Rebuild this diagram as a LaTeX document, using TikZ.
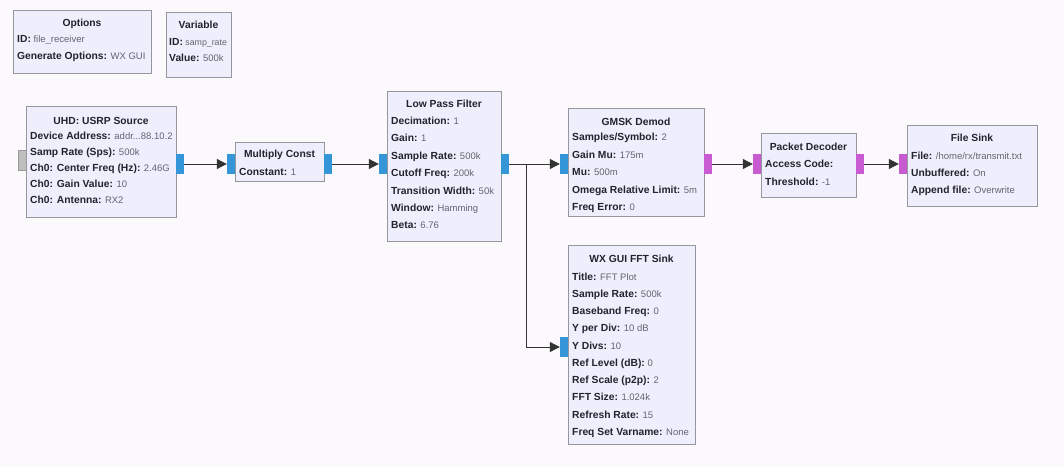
\documentclass[tikz,border=0pt]{standalone}
\usepackage{fontspec}
\setmainfont{Liberation Sans}
\usetikzlibrary{arrows.meta}
\definecolor{bg}{RGB}{252,249,252}
\definecolor{blkfill}{RGB}{239,238,252}
\definecolor{blkdraw}{RGB}{150,150,158}
\definecolor{lbl}{RGB}{35,35,45}
\definecolor{val}{RGB}{100,100,112}
\definecolor{cport}{RGB}{52,150,215}
\definecolor{bport}{RGB}{200,90,210}
\definecolor{gport}{RGB}{190,190,190}
\tikzset{
  blk/.style={draw=blkdraw, fill=blkfill, line width=1.1pt, anchor=north west, inner sep=0pt},
  ttl/.style={font=\fontsize{10.3}{11}\selectfont\bfseries, text=lbl, inner sep=0pt, anchor=mid},
  prm/.style={font=\fontsize{9.5}{11}\selectfont, text=val, inner sep=0pt, anchor=mid west},
  port/.style={minimum width=8pt, minimum height=20pt, inner sep=0pt, draw=none},
  cp/.style={port, fill=cport},
  bp/.style={port, fill=bport},
  gp/.style={port, fill=gport, draw=gray!80},
  conn/.style={draw=black!80, line width=1pt, -{Triangle[length=10pt,width=10pt]}},
}
\newcommand{\lb}[2]{{\fontsize{10.3}{11}\selectfont\textcolor{lbl}{\bfseries #1:}} #2}
\begin{document}
\begin{tikzpicture}[x=1pt,y=-1pt]
\useasboundingbox (0,0) rectangle (1064,466);
\fill[bg] (0,0) rectangle (1064,466);

% Options
\node[blk, minimum width=138pt, minimum height=63pt] (opt) at (13,10) {};
\node[ttl] (optt) at (82,24) {Options};
\node[prm] (opt1) at (17,40) {\lb{ID}{file\_receiver}};
\node[prm] (opt2) at (17,57) {\lb{Generate Options}{WX GUI}};

% Variable
\node[blk, minimum width=65pt, minimum height=65pt] (var) at (166,12) {};
\node[ttl] (vart) at (198.5,26) {Variable};
\node[prm, font=\fontsize{8.8}{10}\selectfont] (var1) at (169,43) {\lb{ID}{samp\_rate}};
\node[prm] (var2) at (169,59) {\lb{Value}{500k}};

% UHD USRP Source
\node[blk, minimum width=150pt, minimum height=111pt] (usrp) at (26,106) {};
\node[ttl] (usrpt) at (101,122) {UHD: USRP Source};
\node[prm] (u1) at (30,137) {\lb{Device Address}{addr...88.10.2}};
\node[prm] (u2) at (30,153) {\lb{Samp Rate (Sps)}{500k}};
\node[prm] (u3) at (30,169) {\lb{Ch0: Center Freq (Hz)}{2.46G}};
\node[prm] (u4) at (30,185) {\lb{Ch0: Gain Value}{10}};
\node[prm] (u5) at (30,201) {\lb{Ch0: Antenna}{RX2}};
\node[gp] (usrp-cmd) at (22,160) {};
\node[cp] (usrp-out) at (180,164) {};

% Multiply Const
\node[blk, minimum width=89pt, minimum height=39pt] (mc) at (235,142) {};
\node[ttl] (mct) at (279.5,155) {Multiply Const};
\node[prm] (mc1) at (239,173) {\lb{Constant}{1}};
\node[cp] (mc-in) at (231,164) {};
\node[cp] (mc-out) at (328,164) {};

% Low Pass Filter
\node[blk, minimum width=114pt, minimum height=150pt] (lpf) at (387,91) {};
\node[ttl] (lpft) at (444,105) {Low Pass Filter};
\node[prm] (l1) at (391,122) {\lb{Decimation}{1}};
\node[prm] (l2) at (391,139) {\lb{Gain}{1}};
\node[prm] (l3) at (391,157) {\lb{Sample Rate}{500k}};
\node[prm] (l4) at (391,174) {\lb{Cutoff Freq}{200k}};
\node[prm] (l5) at (391,192) {\lb{Transition Width}{50k}};
\node[prm] (l6) at (391,209) {\lb{Window}{Hamming}};
\node[prm] (l7) at (391,226) {\lb{Beta}{6.76}};
\node[cp] (lpf-in) at (383,164) {};
\node[cp] (lpf-out) at (505,164) {};

% GMSK Demod
\node[blk, minimum width=136pt, minimum height=108pt] (gmsk) at (568,108) {};
\node[ttl] (gmskt) at (636,123) {GMSK Demod};
\node[prm] (g1) at (572,138) {\lb{Samples/Symbol}{2}};
\node[prm] (g2) at (572,156) {\lb{Gain Mu}{175m}};
\node[prm] (g3) at (572,173) {\lb{Mu}{500m}};
\node[prm] (g4) at (572,191) {\lb{Omega Relative Limit}{5m}};
\node[prm] (g5) at (572,208) {\lb{Freq Error}{0}};
\node[cp] (gmsk-in) at (564,164) {};
\node[bp] (gmsk-out) at (708,164) {};

% WX GUI FFT Sink
\node[blk, minimum width=127pt, minimum height=199pt] (fft) at (568,245) {};
\node[ttl] (fftt) at (631.5,260) {WX GUI FFT Sink};
\node[prm] (f1) at (572,278) {\lb{Title}{FFT Plot}};
\node[prm] (f2) at (572,295) {\lb{Sample Rate}{500k}};
\node[prm] (f3) at (572,312) {\lb{Baseband Freq}{0}};
\node[prm] (f4) at (572,329) {\lb{Y per Div}{10 dB}};
\node[prm] (f5) at (572,347) {\lb{Y Divs}{10}};
\node[prm] (f6) at (572,364) {\lb{Ref Level (dB)}{0}};
\node[prm] (f7) at (572,381) {\lb{Ref Scale (p2p)}{2}};
\node[prm] (f8) at (572,398) {\lb{FFT Size}{1.024k}};
\node[prm] (f9) at (572,416) {\lb{Refresh Rate}{15}};
\node[prm] (f10) at (572,433) {\lb{Freq Set Varname}{None}};
\node[cp] (fft-in) at (564,347) {};

% Packet Decoder
\node[blk, minimum width=95pt, minimum height=64pt] (pd) at (761,133) {};
\node[ttl] (pdt) at (808.5,148) {Packet Decoder};
\node[prm] (p1) at (765,165) {{\fontsize{10.3}{11}\selectfont\textcolor{lbl}{\bfseries Access Code:}}};
\node[prm] (p2) at (765,183) {\lb{Threshold}{-1}};
\node[bp] (pd-in) at (757,164) {};
\node[bp] (pd-out) at (860,164) {};

% File Sink
\node[blk, minimum width=130pt, minimum height=81pt] (fs) at (907,125) {};
\node[ttl] (fst) at (972,139) {File Sink};
\node[prm] (s1) at (911,157) {\lb{File}{/home/rx/transmit.txt}};
\node[prm] (s2) at (911,174) {\lb{Unbuffered}{On}};
\node[prm] (s3) at (911,191) {\lb{Append file}{Overwrite}};
\node[bp] (fs-in) at (903,164) {};

% connections
\coordinate (jn) at (526,164);
\draw[conn] (usrp-out.east) -- (mc-in.west);
\draw[conn] (mc-out.east) -- (lpf-in.west);
\draw[conn] (lpf-out.east) -- (gmsk-in.west);
\draw[conn] (lpf-out.east) -- (jn) |- (fft-in.west);
\draw[conn] (gmsk-out.east) -- (pd-in.west);
\draw[conn] (pd-out.east) -- (fs-in.west);
\end{tikzpicture}
\end{document}
